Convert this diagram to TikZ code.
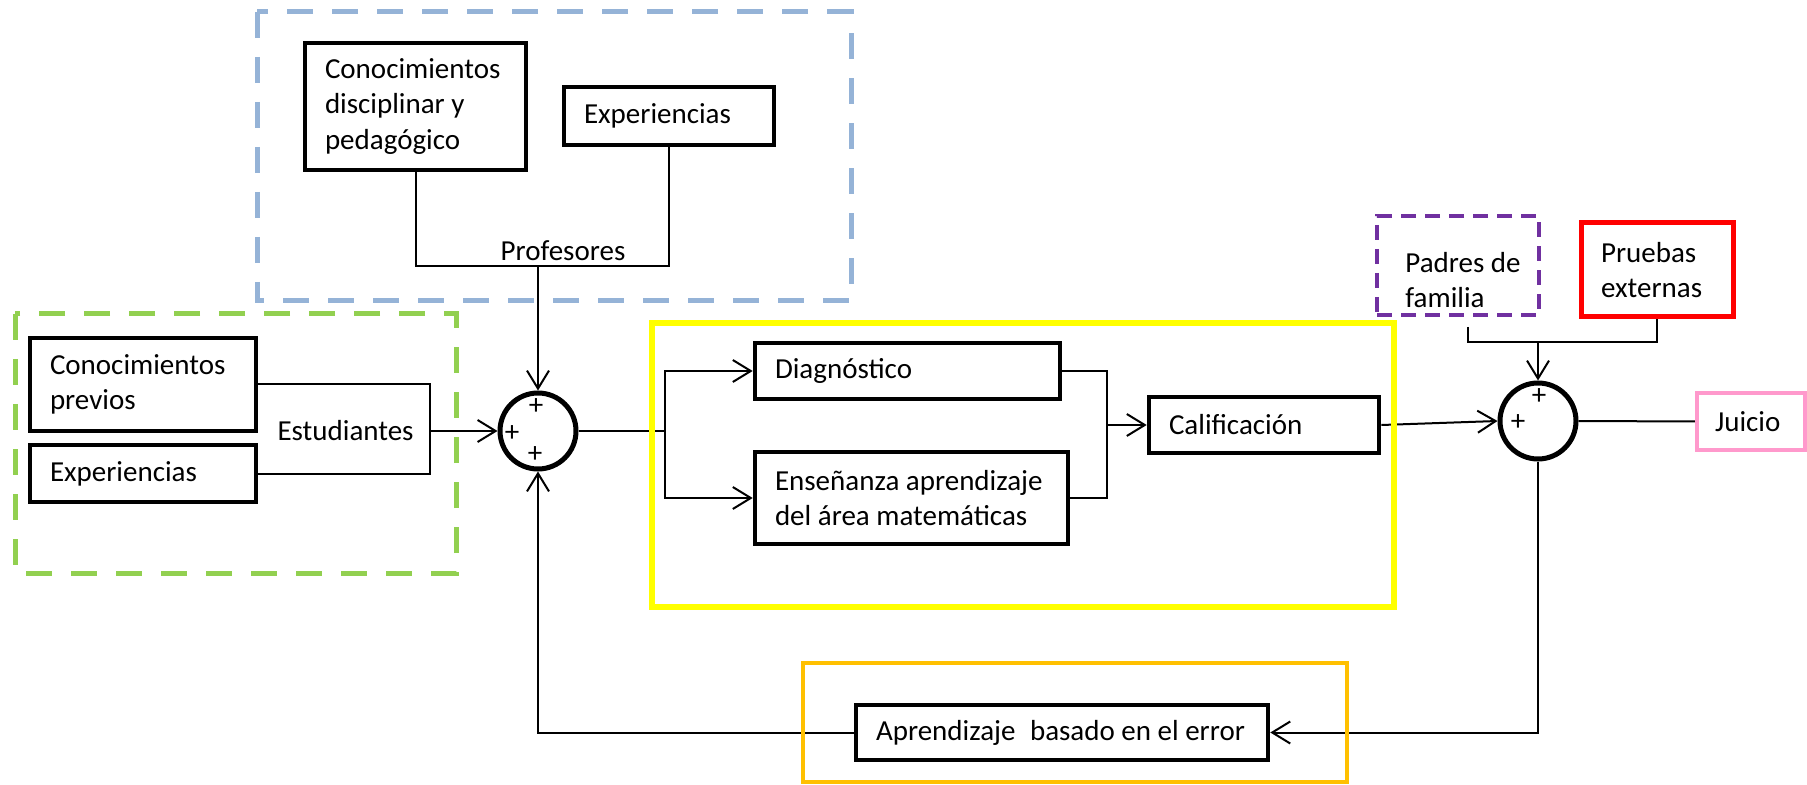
\documentclass[tikz,border=0pt]{standalone}
\usepackage{fontspec}
\setmainfont{Carlito}
\usepackage{tikz}
\usetikzlibrary{arrows.meta,positioning,calc}
\definecolor{grpBlue}{HTML}{95B3D7}
\definecolor{grpGreen}{HTML}{92D050}
\definecolor{grpYellow}{HTML}{FFFF00}
\definecolor{grpOrange}{HTML}{FFC000}
\definecolor{grpPurple}{HTML}{7030A0}
\definecolor{grpRed}{HTML}{FF0000}
\definecolor{grpPink}{HTML}{FF99CC}

\begin{document}
\begin{tikzpicture}[x=0.5pt,y=-0.5pt,
   font=\fontsize{14.5pt}{17.75pt}\selectfont,
   blk/.style={draw,line width=2.3pt,inner xsep=10pt,inner ysep=0pt,align=flush left},
   sum/.style={draw,circle,line width=2.5pt,minimum size=38pt,inner sep=0pt},
   pls/.style={inner sep=0pt},
   wire/.style={line width=1pt},
   flow/.style={wire,-{Straight Barb[length=9pt,width=11pt]}},
   grp/.style={line width=2.5pt,dash pattern=on 13pt off 9.5pt}]
  \useasboundingbox (0,0) rectangle (1807,785);

  % teachers
  \node[blk,minimum height=63.5pt,text width=90.5pt] (cdp) at (415.5,106.5)
    {Conocimientos\\disciplinar y\\pedagógico};
  \node[blk,minimum height=29pt,text width=85pt] (expP) at (669,116) {Experiencias};

  % students
  \node[blk,minimum height=46.5pt,text width=93pt] (cpv) at (143,384.5)
    {Conocimientos\\previos};
  \node[blk,minimum height=28.5pt,text width=93pt] (expE) at (143,473.5) {Experiencias};

  % first summing point
  \node[sum] (s1) at (538,431) {};
  \node[pls] at ([shift={(-2,-24)}]s1) {+};
  \node[pls] at ([shift={(-26,3)}]s1) {+};
  \node[pls] at ([shift={(-3,24)}]s1) {+};

  % classroom process
  \node[blk,minimum height=28pt,text width=132.5pt] (diag) at (907.5,371) {Diagnóstico};
  \node[blk,minimum height=46pt,text width=136.5pt] (ens) at (911.5,498)
    {\mbox{Enseñanza aprendizaje}\\del área matemáticas};
  \node[blk,minimum height=28pt,text width=95pt] (cal) at (1264,425) {Calificación};

  % outside evaluation
  \node[draw=grpPurple,line width=2pt,dash pattern=on 7.5pt off 4.5pt,
        minimum width=81pt,minimum height=49.5pt] (pdf) at (1458,265.5) {};
  \node[anchor=west,inner sep=0pt,align=flush left] (pdft) at (1405,280) {Padres de\\familia};
  \node[blk,draw=grpRed,line width=2.5pt,minimum height=47pt,text width=56pt] (prb)
    at (1657,270) {Pruebas\\externas};

  % second summing point
  \node[sum] (s2) at (1538,421) {};
  \node[pls] at ([shift={(1,-24)}]s2) {+};
  \node[pls] at ([shift={(-20,2)}]s2) {+};
  \node[blk,draw=grpPink,line width=2.2pt,inner xsep=9pt,minimum height=28.5pt,
        text width=36pt] (jui) at (1751,421.5) {Juicio};

  % feedback
  \node[blk,minimum height=27.5pt,text width=186pt] (abe) at (1062,732.5)
    {\mbox{Aprendizaje\enspace basado en el error}};

  % connectors
  \coordinate (jP) at (538,266);
  \draw[wire] (cdp.south) |- (jP) -| (expP.south);
  \draw[flow] (jP) -- (s1.north);
  \node[anchor=base,inner sep=0pt] (prof) at (563,261) {Profesores};

  \coordinate (jE) at (430,431);
  \draw[wire] (cpv.east) -| (jE) |- (expE.east);
  \draw[flow] (jE) -- (s1.west);
  \node[left=8pt of jE,inner sep=0pt] (est) {Estudiantes};

  \coordinate (jS) at (665,431);
  \draw[wire] (s1.east) -- (jS);
  \draw[flow] (jS) |- (diag.west);
  \draw[flow] (jS) |- (ens.west);

  \coordinate (jC) at (1107,425);
  \draw[wire] (diag.east) -| (jC) |- (ens.east);
  \draw[flow] (jC) -- (cal.west);
  \draw[flow] (cal.east) -- (s2.west);

  \coordinate (pdfo) at ([shift={(10,10)}]pdf.south);
  \coordinate (jF) at (1538,342);
  \draw[wire] (pdfo) |- (jF) -| (prb.south);
  \draw[flow] (jF) -- (s2.north);
  \draw[wire] (s2.east) -- (jui.west);

  \draw[flow] (s2.south) |- (abe.east);
  \draw[flow] (abe.west) -| (s1.south);

  % group frames
  \draw[grp,draw=grpBlue] (257,12) rectangle (851,301);
  \draw[grp,draw=grpGreen] (15,314) rectangle (456,573);
  \draw[draw=grpYellow,line width=3pt] (652,323) rectangle (1394,607);
  \draw[draw=grpOrange,line width=2.2pt] (803,663) rectangle (1347,782);
\end{tikzpicture}
\end{document}
